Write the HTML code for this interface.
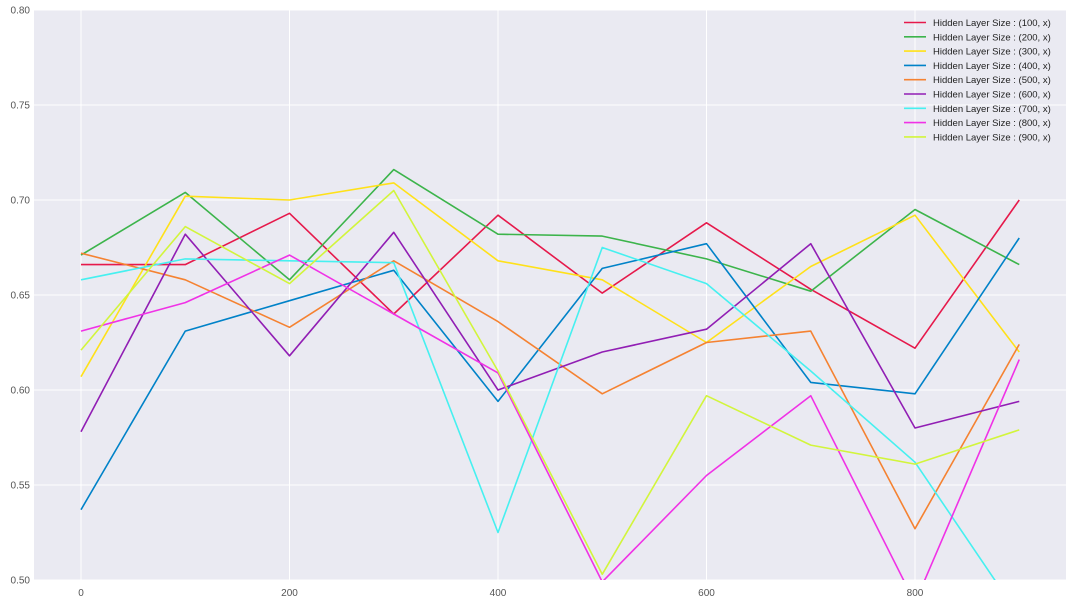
<!DOCTYPE html>
<html><head><meta charset="utf-8">
<style>
body{margin:0;background:#fff;font-family:"Liberation Sans",sans-serif;}
svg text{font-family:"Liberation Sans",sans-serif;}
</style></head>
<body>
<svg id="chart" width="1073" height="604" xmlns="http://www.w3.org/2000/svg">
<defs><clipPath id="clip"><rect x="34" y="10" width="1032" height="570"/></clipPath></defs>
<rect x="34" y="10" width="1032" height="570" fill="#eaeaf2"/>
<g id="grid"></g><g id="ticks"></g><g id="lines" clip-path="url(#clip)"></g><g id="legend"></g>
</svg>
<script>
const xCats=[0,100,200,300,400,500,600,700,800,900];
const xTicks=[0,200,400,600,800];
const yTicks=[0.50,0.55,0.60,0.65,0.70,0.75,0.80];
const seriesNames=["Hidden Layer Size : (100, x)","Hidden Layer Size : (200, x)","Hidden Layer Size : (300, x)","Hidden Layer Size : (400, x)","Hidden Layer Size : (500, x)","Hidden Layer Size : (600, x)","Hidden Layer Size : (700, x)","Hidden Layer Size : (800, x)","Hidden Layer Size : (900, x)"];
const s100=[0.666,0.666,0.693,0.640,0.692,0.651,0.688,0.653,0.622,0.700];
const s200=[0.671,0.704,0.658,0.716,0.682,0.681,0.669,0.652,0.695,0.666];
const s300=[0.607,0.702,0.700,0.709,0.668,0.658,0.625,0.665,0.692,0.620];
const s400=[0.537,0.631,0.647,0.663,0.594,0.664,0.677,0.604,0.598,0.680];
const s500=[0.672,0.658,0.633,0.668,0.636,0.598,0.625,0.631,0.527,0.624];
const s600=[0.578,0.682,0.618,0.683,0.600,0.620,0.632,0.677,0.580,0.594];
const s700=[0.658,0.669,0.668,0.667,0.525,0.675,0.656,0.610,0.562,0.481];
const s800=[0.631,0.646,0.671,0.640,0.609,0.499,0.555,0.597,0.488,0.616];
const s900=[0.621,0.686,0.656,0.705,0.610,0.503,0.597,0.571,0.561,0.579];
const allSeries=[s100,s200,s300,s400,s500,s600,s700,s800,s900];
const colors=["#e6194b","#3cb44b","#ffe119","#0082c8","#f58231","#911eb4","#46f0f0","#f032e6","#d2f53c"];
const NS="http://www.w3.org/2000/svg";
const xs=v=>81+v*1.0425;
const ys=v=>10+(0.80-v)*1900;
function mk(t,a,p){const e=document.createElementNS(NS,t);for(const k in a)e.setAttribute(k,a[k]);p.appendChild(e);return e;}
const grid=document.getElementById('grid'),ticks=document.getElementById('ticks'),lines=document.getElementById('lines'),legend=document.getElementById('legend');
yTicks.forEach(v=>{
 const l=mk('line',{x1:34,x2:1066,y1:ys(v),y2:ys(v),stroke:'#fff','stroke-width':1},grid);
 
 
 const t=mk('text',{x:30,y:ys(v)+3.5,'text-anchor':'end','font-size':10,fill:'#555'},ticks);t.textContent=v.toFixed(2);
 
 
});
xTicks.forEach(v=>{
 const l=mk('line',{x1:xs(v),x2:xs(v),y1:10,y2:580,stroke:'#fff','stroke-width':1},grid);
 
 
 const t=mk('text',{x:xs(v),y:596,'text-anchor':'middle','font-size':10,fill:'#555'},ticks);t.textContent=v;
 
 
});
allSeries.forEach((s,i)=>{
 const p=mk('polyline',{points:s.map((v,j)=>xs(xCats[j])+','+ys(v)).join(' '),fill:'none',stroke:colors[i],'stroke-width':1.6,'stroke-linejoin':'round'},lines);
 
 
 const y=22.5+i*14.3;
 const g=mk('g',{},legend);
 
 
 mk('line',{x1:904,x2:926,y1:y,y2:y,stroke:colors[i],'stroke-width':1.6},g);
 const t=mk('text',{x:933,y:y+3.5,'font-size':9.5,fill:'#222'},g);t.textContent=seriesNames[i];
});
</script>
</body></html>
